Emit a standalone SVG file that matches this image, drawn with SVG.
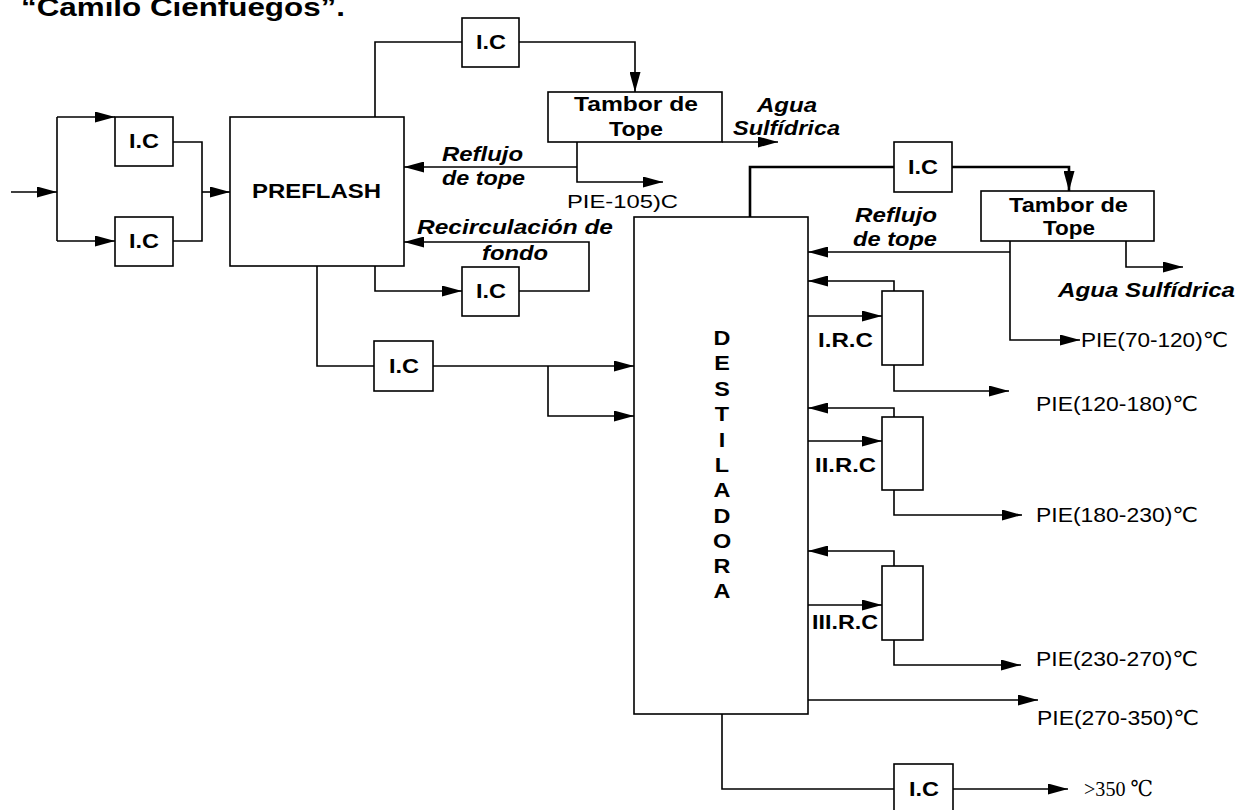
<svg xmlns="http://www.w3.org/2000/svg" width="1238" height="810" viewBox="0 0 1238 810">
  <style>
    .box { fill: #fff; stroke: #000; stroke-width: 1.6; }
    .ln { fill: none; stroke: #000; stroke-width: 1.6; }
    .thick { fill: none; stroke: #000; stroke-width: 2.6; }
    .b { font-family: "Liberation Sans", Arial, sans-serif; font-weight: bold; font-size: 19.5px; fill: #000; }
    .bi { font-family: "Liberation Sans", Arial, sans-serif; font-weight: bold; font-style: italic; font-size: 19.5px; fill: #000; }
    .r { font-family: "Liberation Sans", "DejaVu Sans", Arial, sans-serif; font-size: 19px; fill: #000; }
    .pie { font-family: "Liberation Sans", "DejaVu Sans", Arial, sans-serif; font-size: 20.5px; fill: #000; }
    .serif { font-family: "Liberation Serif", "DejaVu Serif", serif; font-size: 22px; fill: #000; }
    .title { font-family: "Liberation Sans", Arial, sans-serif; font-weight: bold; font-size: 26px; fill: #000; }
    .mid { text-anchor: middle; }
  </style>
  <defs>
    <marker id="ah" markerWidth="20" markerHeight="11" refX="20" refY="5.5" orient="auto" markerUnits="userSpaceOnUse">
      <path d="M0,0 L20,5.5 L0,11 z" fill="#000"/>
    </marker>
  </defs>

  <rect width="1238" height="810" fill="#fff"/>

  <!-- heading line -->
  <text class="title" x="21" y="16" textLength="324" lengthAdjust="spacingAndGlyphs">“Camilo Cienfuegos”.</text>

  <!-- connectors -->
  <g id="connectors">
    <!-- feed and split to the two exchangers -->
    <path class="ln" d="M11,192 H57" marker-end="url(#ah)"/>
    <path class="ln" d="M57,117 V241"/>
    <path class="ln" d="M57,117 H115" marker-end="url(#ah)"/>
    <path class="ln" d="M57,241 H115" marker-end="url(#ah)"/>
    <path class="ln" d="M173,142 H202 V241 H173"/>
    <path class="ln" d="M202,192 H230" marker-end="url(#ah)"/>

    <!-- preflash overhead -->
    <path class="ln" d="M375,117 V42 H462"/>
    <path class="ln" d="M519,42 H635 V92" marker-end="url(#ah)"/>
    <path class="ln" d="M722,142 H778" marker-end="url(#ah)"/>
    <path class="ln" d="M577,142 V182 H663" marker-end="url(#ah)"/>
    <path class="ln" d="M577,167 H404" marker-end="url(#ah)"/>

    <!-- preflash bottoms recirculation -->
    <path class="ln" d="M375,266 V291 H462" marker-end="url(#ah)"/>
    <path class="ln" d="M519,291 H589 V242 H404" marker-end="url(#ah)"/>

    <!-- preflash bottoms to the column -->
    <path class="ln" d="M317,266 V366 H374"/>
    <path class="ln" d="M433,366 H634" marker-end="url(#ah)"/>
    <path class="ln" d="M548,366 V416 H634" marker-end="url(#ah)"/>

    <!-- column overhead -->
    <path class="thick" d="M750,217 V167 H894"/>
    <path class="thick" d="M952,167 H1069 V191" marker-end="url(#ah)"/>
    <path class="ln" d="M1126,241 V267 H1183" marker-end="url(#ah)"/>
    <path class="ln" d="M1010,241 V340 H1080" marker-end="url(#ah)"/>
    <path class="ln" d="M1010,252 H808" marker-end="url(#ah)"/>

    <!-- circulating refluxes -->
    <path class="ln" d="M894,291 V281 H808" marker-end="url(#ah)"/>
    <path class="ln" d="M808,316 H882" marker-end="url(#ah)"/>
    <path class="ln" d="M894,365 V391 H1009" marker-end="url(#ah)"/>

    <path class="ln" d="M894,417 V408 H808" marker-end="url(#ah)"/>
    <path class="ln" d="M808,441 H882" marker-end="url(#ah)"/>
    <path class="ln" d="M894,490 V515 H1022" marker-end="url(#ah)"/>

    <path class="ln" d="M894,566 V551 H808" marker-end="url(#ah)"/>
    <path class="ln" d="M808,605 H882" marker-end="url(#ah)"/>
    <path class="ln" d="M894,640 V665 H1021" marker-end="url(#ah)"/>

    <path class="ln" d="M808,700 H1038" marker-end="url(#ah)"/>

    <!-- residue -->
    <path class="ln" d="M722,714 V789 H894"/>
    <path class="ln" d="M953,789 H1068" marker-end="url(#ah)"/>
  </g>

  <!-- stream labels -->
  <g id="labels">
    <text class="bi" x="442" y="161" textLength="81" lengthAdjust="spacingAndGlyphs">Reflujo</text>
    <text class="bi" x="442" y="185" textLength="83" lengthAdjust="spacingAndGlyphs">de tope</text>
    <text class="bi" x="757" y="112" textLength="60" lengthAdjust="spacingAndGlyphs">Agua</text>
    <text class="bi" x="733" y="135" textLength="107" lengthAdjust="spacingAndGlyphs">Sulfídrica</text>
    <text class="r" x="567" y="208" textLength="111" lengthAdjust="spacingAndGlyphs">PIE-105)C</text>
    <text class="bi" x="417" y="234" textLength="196" lengthAdjust="spacingAndGlyphs">Recirculación de</text>
    <text class="bi" x="482" y="260" textLength="66" lengthAdjust="spacingAndGlyphs">fondo</text>

    <text class="bi" x="855" y="222" textLength="82" lengthAdjust="spacingAndGlyphs">Reflujo</text>
    <text class="bi" x="853" y="246" textLength="84" lengthAdjust="spacingAndGlyphs">de tope</text>
    <text class="bi" x="1058" y="297" textLength="177" lengthAdjust="spacingAndGlyphs">Agua Sulfídrica</text>

    <text class="pie" x="1081" y="347" textLength="147" lengthAdjust="spacingAndGlyphs">PIE(70-120)℃</text>
    <text class="pie" x="1036" y="411" textLength="162" lengthAdjust="spacingAndGlyphs">PIE(120-180)℃</text>
    <text class="pie" x="1036" y="522" textLength="162" lengthAdjust="spacingAndGlyphs">PIE(180-230)℃</text>
    <text class="pie" x="1036" y="666" textLength="162" lengthAdjust="spacingAndGlyphs">PIE(230-270)℃</text>
    <text class="pie" x="1037" y="725" textLength="162" lengthAdjust="spacingAndGlyphs">PIE(270-350)℃</text>
    <text class="serif" x="1084" y="796" textLength="69" lengthAdjust="spacingAndGlyphs">&gt;350 ℃</text>

    <text class="b" x="818" y="347" textLength="55" lengthAdjust="spacingAndGlyphs">I.R.C</text>
    <text class="b" x="815" y="472" textLength="61" lengthAdjust="spacingAndGlyphs">II.R.C</text>
    <text class="b" x="812" y="629" textLength="66" lengthAdjust="spacingAndGlyphs">III.R.C</text>
  </g>

  <!-- heat exchangers on the feed -->
  <g id="ic-feed-top">
    <rect class="box" x="115" y="117" width="58" height="49"/>
    <text class="b" x="129" y="148" textLength="30" lengthAdjust="spacingAndGlyphs">I.C</text>
  </g>
  <g id="ic-feed-bottom">
    <rect class="box" x="115" y="217" width="58" height="49"/>
    <text class="b" x="129" y="248" textLength="30" lengthAdjust="spacingAndGlyphs">I.C</text>
  </g>

  <!-- preflash drum -->
  <g id="preflash">
    <rect class="box" x="230" y="117" width="174" height="149"/>
    <text class="b" x="252" y="198" textLength="129" lengthAdjust="spacingAndGlyphs">PREFLASH</text>
  </g>

  <g id="ic-preflash-top">
    <rect class="box" x="462" y="18" width="57" height="49"/>
    <text class="b" x="476" y="49" textLength="30" lengthAdjust="spacingAndGlyphs">I.C</text>
  </g>

  <g id="tambor-1">
    <rect class="box" x="548" y="92" width="174" height="50"/>
    <text class="b" x="574" y="111" textLength="124" lengthAdjust="spacingAndGlyphs">Tambor de</text>
    <text class="b" x="609" y="136" textLength="54" lengthAdjust="spacingAndGlyphs">Tope</text>
  </g>

  <g id="ic-recirculation">
    <rect class="box" x="462" y="267" width="57" height="49"/>
    <text class="b" x="476" y="298" textLength="30" lengthAdjust="spacingAndGlyphs">I.C</text>
  </g>

  <g id="ic-column-feed">
    <rect class="box" x="374" y="341" width="59" height="50"/>
    <text class="b" x="389" y="373" textLength="30" lengthAdjust="spacingAndGlyphs">I.C</text>
  </g>

  <!-- main column -->
  <g id="destiladora">
    <rect class="box" x="634" y="217" width="174" height="497"/>
    <g transform="translate(722,0) scale(1.2,1)">
      <text class="b mid" x="0" y="345">D</text>
      <text class="b mid" x="0" y="370.5">E</text>
      <text class="b mid" x="0" y="396">S</text>
      <text class="b mid" x="0" y="421.5">T</text>
      <text class="b mid" x="0" y="447">I</text>
      <text class="b mid" x="0" y="472">L</text>
      <text class="b mid" x="0" y="497.5">A</text>
      <text class="b mid" x="0" y="523">D</text>
      <text class="b mid" x="0" y="548">O</text>
      <text class="b mid" x="0" y="573">R</text>
      <text class="b mid" x="0" y="598">A</text>
    </g>
  </g>

  <g id="ic-column-top">
    <rect class="box" x="894" y="142" width="58" height="50"/>
    <text class="b" x="908" y="174" textLength="30" lengthAdjust="spacingAndGlyphs">I.C</text>
  </g>

  <g id="tambor-2">
    <rect class="box" x="981" y="191" width="173" height="50"/>
    <text class="b" x="1009" y="212" textLength="119" lengthAdjust="spacingAndGlyphs">Tambor de</text>
    <text class="b" x="1043" y="235" textLength="52" lengthAdjust="spacingAndGlyphs">Tope</text>
  </g>

  <g id="irc-1">
    <rect class="box" x="882" y="291" width="41" height="74"/>
  </g>
  <g id="irc-2">
    <rect class="box" x="882" y="417" width="41" height="73"/>
  </g>
  <g id="irc-3">
    <rect class="box" x="882" y="566" width="41" height="74"/>
  </g>

  <g id="ic-residue">
    <rect class="box" x="894" y="764" width="59" height="49"/>
    <text class="b" x="909" y="796" textLength="30" lengthAdjust="spacingAndGlyphs">I.C</text>
  </g>
</svg>
